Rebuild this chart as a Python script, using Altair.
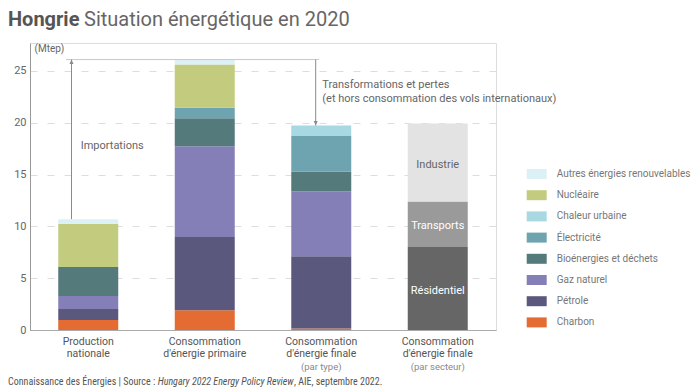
import altair as alt
import pandas as pd

# ---------------- data ----------------
categories = [
    "Production|nationale",
    "Consommation|d'énergie primaire",
    "Consommation|d'énergie finale|(par type)",
    "Consommation|d'énergie finale|(par secteur)",
]
sub_labels = ["", "", "(par type)", "(par secteur)"]

energies = ["Charbon", "Pétrole", "Gaz naturel", "Bioénergies et déchets",
            "Électricité", "Chaleur urbaine", "Nucléaire", "Autres énergies renouvelables"]
energy_colors = ["#e46b32", "#5b587e", "#847fb6", "#557a7c",
                 "#6ea4af", "#a8d8e2", "#c3cc7e", "#dcf1f5"]

production = [0.96, 1.06, 1.26, 2.79, 0.0, 0.0, 4.18, 0.45]
primaire = [1.90, 7.07, 8.77, 2.70, 1.00, 0.0, 4.18, 0.48]
finale_type = [0.15, 6.98, 6.24, 1.93, 3.47, 0.97, 0.0, 0.0]

secteurs = ["Résidentiel", "Transports", "Industrie"]
secteur_values = [8.0, 4.4, 7.53]
secteur_colors = ["#666666", "#9a9a9a", "#e3e3e3"]

y_ticks = [0, 5, 10, 15, 20, 25]

# ---------------- tables ----------------
rows = []
for cat, vals in zip(categories[:3], [production, primaire, finale_type]):
    for i, (e, v) in enumerate(zip(energies, vals)):
        if v > 0:
            rows.append({"cat": cat, "energy": e, "value": v, "ord": i})
df_e = pd.DataFrame(rows)

df_s = pd.DataFrame({"cat": categories[3], "secteur": secteurs,
                     "value": secteur_values, "ord": list(range(len(secteurs)))})
cum = 0
mids = []
for v in secteur_values:
    mids.append(cum + v / 2)
    cum += v
df_slab = pd.DataFrame({"cat": categories[3], "secteur": secteurs, "value": mids})

tot_prod = sum(production)
tot_prim = sum(primaire)
tot_fin = sum(finale_type)

df_top = pd.DataFrame({"value": [tot_prim]})
df_imp = pd.DataFrame({"value": [tot_prod], "value2": [tot_prim]})
df_tr = pd.DataFrame({"value": [tot_prim], "value2": [tot_fin]})
df_sub = pd.DataFrame({"cat": categories, "sub": sub_labels})

FONT = "Roboto"

x_enc = alt.X("cat:N", title=None,
              scale=alt.Scale(domain=categories, paddingInner=0.485, paddingOuter=0.2425),
              axis=alt.Axis(labelExpr="slice(split(datum.label, '|'), 0, 2)",
                            labelAngle=0, ticks=False, domainColor="#aaaaaa",
                            labelColor="#555555", labelFontSize=10.5,
                            labelLineHeight=12.5, labelPadding=6, labelFont=FONT))

y_scale = alt.Scale(domain=[0, 27.7], nice=False, zero=True)
y_axis = alt.Axis(values=y_ticks, grid=True, gridDash=[7, 10], gridColor="#dddddd",
                  ticks=False, domainColor="#999999", labelColor="#666666",
                  labelFontSize=11, labelPadding=4, labelFont=FONT,
                  title="(Mtep)", titleAngle=0, titleAlign="left", titleBaseline="middle",
                  titleX=4, titleY=5, titleFontWeight="normal", titleFontSize=10,
                  titleColor="#666666", titleFont=FONT)


def yq(field="value"):
    return alt.Y(f"{field}:Q", scale=y_scale, axis=y_axis, title="(Mtep)")


bars_e = alt.Chart(df_e).mark_bar().encode(
    x=x_enc,
    y=yq(),
    color=alt.Color("energy:N",
                    scale=alt.Scale(domain=energies[::-1], range=energy_colors[::-1]),
                    legend=alt.Legend(title=None, orient="none", legendX=496.7, legendY=121,
                                      symbolType="M-1,-0.5L1,-0.5L1,0.5L-1,0.5Z",
                                      symbolSize=400, symbolStrokeWidth=0,
                                      labelFontSize=10, labelColor="#777777",
                                      labelFont=FONT, labelOffset=10,
                                      rowPadding=6.2, padding=0)),
    order=alt.Order("ord:Q", sort="ascending"),
)

bars_s = alt.Chart(df_s).mark_bar().encode(
    x=x_enc,
    y=yq(),
    color=alt.Color("secteur:N", scale=alt.Scale(domain=secteurs, range=secteur_colors),
                    legend=None),
    order=alt.Order("ord:Q", sort="ascending"),
)

sec_text = alt.Chart(df_slab).mark_text(font=FONT, fontSize=11, baseline="middle",
                                        dy=2).encode(
    x=x_enc,
    y=yq(),
    text="secteur:N",
    color=alt.condition(alt.datum.secteur == "Industrie", alt.value("#666666"),
                        alt.value("#ffffff")),
)

top_line = alt.Chart(df_top).mark_rule(color="#c8c8c8", strokeWidth=1).encode(
    y=yq(), x=alt.value(36), x2=alt.value(289))

imp_line = alt.Chart(df_imp).mark_rule(color="#8a8a8a", strokeWidth=1).encode(
    x=alt.value(41.5), y=yq(), y2="value2:Q")
imp_head = alt.Chart(df_imp).mark_point(shape="M0,0L-1,2.2L1,2.2Z", size=16, filled=True,
                                        color="#8a8a8a", opacity=1, strokeWidth=0).encode(
    x=alt.value(41.5), y=alt.Y("value2:Q", scale=y_scale, axis=y_axis, title="(Mtep)"))

tr_line = alt.Chart(df_tr).mark_rule(color="#8a8a8a", strokeWidth=1).encode(
    x=alt.value(285.7), y=yq(), y2="value2:Q")
tr_head = alt.Chart(df_tr).mark_point(shape="M0,0L-1,-2.2L1,-2.2Z", size=16, filled=True,
                                      color="#8a8a8a", opacity=1, strokeWidth=0).encode(
    x=alt.value(285.7), y=alt.Y("value2:Q", scale=y_scale, axis=y_axis, title="(Mtep)"))


def label(txt, x, y, size=11, color="#666666", weight="normal", align="left",
          baseline="middle", style="normal", font=FONT, line_height=None):
    kw = dict(font=font, fontSize=size, color=color, fontWeight=weight, align=align,
              baseline=baseline, fontStyle=style)
    if line_height:
        kw["lineBreak"] = "\n"
        kw["lineHeight"] = line_height
    return alt.Chart(pd.DataFrame({"t": [txt]})).mark_text(**kw).encode(
        x=alt.value(x), y=alt.value(y), text="t:N")


imp_text = label("Importations", 50.7, 103)
tr_text = label("Transformations et pertes\n(et hors consommation des vols internationaux)",
                292.3, 41.5, line_height=14)

sub_text = alt.Chart(df_sub).mark_text(font=FONT, fontSize=9.5, color="#888888",
                                       baseline="middle").encode(
    x=x_enc, y=alt.value(323.5), text="sub:N")

title1 = label("Hongrie", -22, -17, size=20, color="#555555", weight="bold",
               baseline="alphabetic")
title2 = label("Situation énergétique en 2020", 54, -17, size=20, color="#666666",
               baseline="alphabetic")

FOOT = "Liberation Sans Narrow, Roboto Condensed, Roboto"
foot1 = label("Connaissance des Énergies | Source : ", -22, 338.5, size=10,
              color="#555555", font=FOOT)
foot2 = label("Hungary 2022 Energy Policy Review", 127.7, 338.5, size=10,
              color="#555555", style="italic", font=FOOT)
foot3 = label(", AIE, septembre 2022.", 264, 338.5, size=10, color="#555555", font=FOOT)

chart = alt.layer(
    bars_e, bars_s, sec_text, top_line, imp_line, imp_head, tr_line, tr_head,
    imp_text, tr_text, sub_text, title1, title2, foot1, foot2, foot3,
).resolve_scale(color="independent").properties(
    width=466, height=287,
    autosize=alt.AutoSizeParams(type="none"),
    padding={"left": 22, "top": 35, "right": 196, "bottom": 57},
).configure_view(stroke=None).configure(font=FONT)

chart.save("out.html", embed_options={"renderer": "svg", "actions": False})
